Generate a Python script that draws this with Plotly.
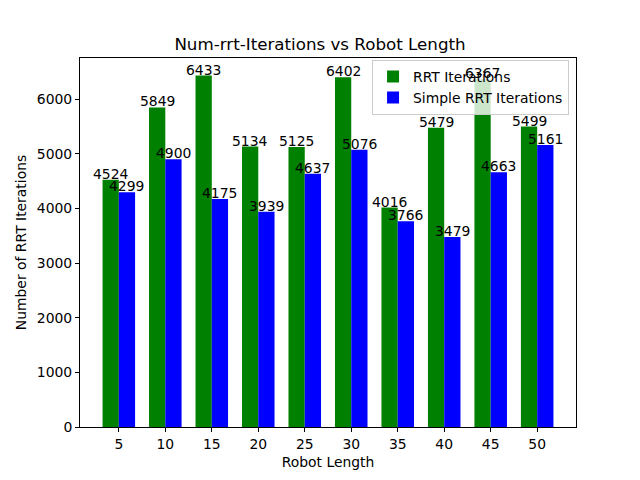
import plotly.graph_objects as go

robot_lengths = [5, 10, 15, 20, 25, 30, 35, 40, 45, 50]
rrt_iterations = [4524, 5849, 6433, 5134, 5125, 6402, 4016, 5479, 6367, 5499]
simple_rrt_iterations = [4299, 4900, 4175, 3939, 4637, 5076, 3766, 3479, 4663, 5161]

width = 0.35
idx = list(range(len(robot_lengths)))
x_rrt = [i - width / 2 for i in idx]
x_simple = [i + width / 2 for i in idx]

fig = go.Figure()
fig.add_trace(go.Bar(x=x_rrt, y=rrt_iterations, width=width, name="RRT Iterations",
                     marker=dict(color="green", line=dict(width=0))))
fig.add_trace(go.Bar(x=x_simple, y=simple_rrt_iterations, width=width, name="Simple RRT Iterations",
                     marker=dict(color="blue", line=dict(width=0))))

fs = 13.9
annotations = []
for xs, ys in ((x_rrt, rrt_iterations), (x_simple, simple_rrt_iterations)):
    for xv, yv in zip(xs, ys):
        annotations.append(dict(x=xv, y=yv, text=str(yv), showarrow=False,
                                xanchor="center", yanchor="bottom", yshift=-4,
                                font=dict(size=fs, color="black")))

ymax = max(rrt_iterations + simple_rrt_iterations) * 1.05
lo = min(x_rrt) - width / 2
hi = max(x_simple) + width / 2
pad = (hi - lo) * 0.05

fig.update_layout(
    width=640, height=480,
    paper_bgcolor="white", plot_bgcolor="white",
    font=dict(family="DejaVu Sans", size=fs, color="black"),
    margin=dict(l=80, r=64, t=58, b=53),
    title=dict(text="Num-rrt-Iterations vs Robot Length", x=0.5, xanchor="center",
               y=1 - 44 / 480, yanchor="middle", font=dict(size=16.7)),
    barmode="overlay",
    showlegend=True,
    legend=dict(x=0.986, y=0.995, xanchor="right", yanchor="top",
                bgcolor="rgba(255,255,255,0.8)", bordercolor="#cccccc", borderwidth=1,
                font=dict(size=fs), tracegroupgap=0),
    annotations=annotations,
    xaxis=dict(tickmode="array", tickvals=idx, ticktext=[str(v) for v in robot_lengths],
               range=[lo - pad, hi + pad], showgrid=False, zeroline=False,
               showline=True, linecolor="black", linewidth=1, mirror=True,
               ticks="outside", ticklen=4, tickcolor="black",
               title=dict(text="Robot Length", standoff=6, font=dict(size=fs))),
    yaxis=dict(range=[0, ymax], dtick=1000, showgrid=False, zeroline=False,
               showline=True, linecolor="black", linewidth=1, mirror=True,
               ticks="outside", ticklen=4, tickcolor="black",
               title=dict(text="Number of RRT Iterations", standoff=6, font=dict(size=fs))),
)

fig.write_html("out.html", config={"displayModeBar": False},
               post_script="document.body.style.margin='0';")
